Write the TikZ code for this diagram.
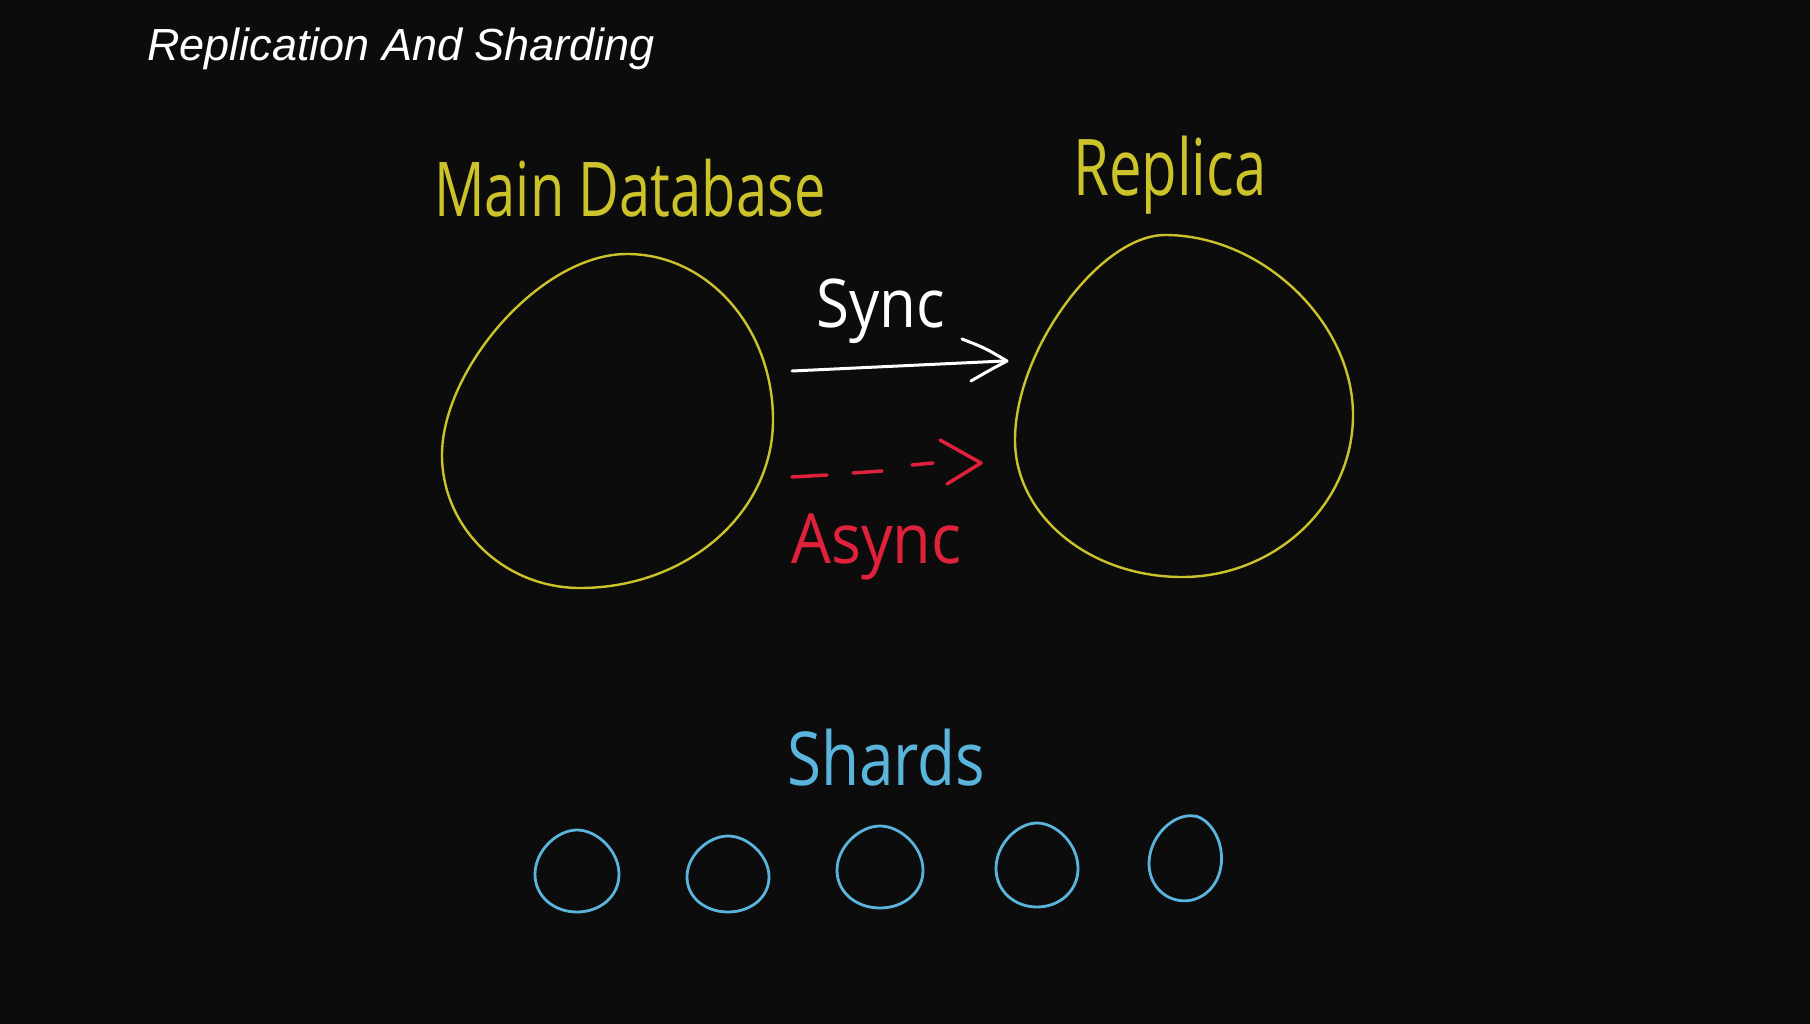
\documentclass[tikz,border=0pt]{standalone}
\usepackage{fontspec}
\setmainfont{Liberation Sans}
\newfontfamily\handfont{Open Sans}
\usetikzlibrary{calc}
\definecolor{bgc}{HTML}{0C0C0C}
\definecolor{ylw}{HTML}{CCC32B}
\definecolor{sky}{HTML}{5AB4DC}
\definecolor{rd}{HTML}{E0213C}
\tikzset{
  hand/.style={font=\handfont\fontsize{#1}{#1}\selectfont, inner sep=0pt, anchor=base west},
  dbline/.style={draw=ylw, line width=2.4pt, line cap=round, line join=round},
  shardline/.style={draw=sky, line width=2.8pt, line join=round},
  syncline/.style={draw=white, line width=3pt, line cap=round, line join=round},
  asyncline/.style={draw=rd, line width=3.5pt, line cap=round, line join=round},
}
\newcommand{\eggshape}[5]{% name, cx, cy, rx, ry
  \begin{scope}[shift={(#2,#3)}, xscale=#4, yscale=#5]
    \draw[shardline] (0,-1) .. controls (0.47,-1) and (1,-0.5) .. (1,0.08)
      .. controls (1,0.62) and (0.55,1) .. (0,1)
      .. controls (-0.55,1) and (-1,0.62) .. (-1,0.08)
      .. controls (-1,-0.5) and (-0.47,-1) .. cycle;
    \coordinate (#1) at (0,0);
  \end{scope}}
\begin{document}
\begin{tikzpicture}[x=1pt,y=-1pt]
\fill[bgc] (0,0) rectangle (1810,1024);
\useasboundingbox (0,0) rectangle (1810,1024);

% title
\node[anchor=base west, inner sep=0pt, text=white, font=\itshape\fontsize{45}{45}\selectfont] (title) at (147,61) {Replication And Sharding};

% labels
\node[hand=56, text=ylw, yscale=1.35] (mainlbl) at (434,217) {Main Database};
\node[hand=58, text=ylw, yscale=1.35] (replbl) at (1073,196) {Replica};
\node[hand=60, text=white, yscale=1.12] (synclbl) at (816,327) {Sync};
\node[hand=63, text=rd, yscale=1.1] (asynclbl) at (791,563) {Async};
\node[hand=62, text=sky, yscale=1.2] (shardlbl) at (787,785) {Shards};

% main database
\coordinate (mT) at (627,254);
\coordinate (mE) at (773,420);
\coordinate (mB) at (580,588);
\coordinate (mW) at (442,455);
\draw[dbline] (mT) .. controls (708,254) and (773,328) .. (mE)
  .. controls (773,513) and (687,588) .. (mB)
  .. controls (504,588) and (442,528) .. (mW)
  .. controls (442,370) and (540,254) .. (mT) -- cycle;

% replica
\coordinate (rT) at (1165,235);
\coordinate (rE) at (1353,415);
\coordinate (rB) at (1182,577);
\coordinate (rW) at (1015,440);
\draw[dbline] (rT) .. controls (1262,235) and (1353,322) .. (rE)
  .. controls (1353,504) and (1276,577) .. (rB)
  .. controls (1090,577) and (1015,516) .. (rW)
  .. controls (1015,350) and (1100,235) .. (rT) -- cycle;

% sync arrow
\coordinate (s0) at (792,371);
\coordinate (s1) at (1004,361);
\coordinate (sh1) at (962,339);
\coordinate (sh2) at (1007,361);
\coordinate (sh3) at (971,381);
\draw[syncline] (s0) -- (s1);
\draw[syncline] (sh1) .. controls (985,348) .. (sh2) .. controls (990,370) .. (sh3);

% async dashed arrow
\coordinate (a1) at (792,477); \coordinate (a2) at (827,475);
\coordinate (a3) at (853,473); \coordinate (a4) at (882,471);
\coordinate (a5) at (912,465); \coordinate (a6) at (933,463);
\coordinate (ah1) at (940,440); \coordinate (ah2) at (981,463); \coordinate (ah3) at (947,484);
\draw[asyncline] (a1) -- (a2);
\draw[asyncline] (a3) -- (a4);
\draw[asyncline] (a5) -- (a6);
\draw[asyncline] (ah1) -- (ah2) -- (ah3);

% shards
\eggshape{sh1c}{577}{871}{42}{41}
\eggshape{sh2c}{728}{874}{41}{38}
\eggshape{sh3c}{880}{867}{43}{41}
\eggshape{sh4c}{1037}{865}{41}{42}
\begin{scope}[rotate around={-12:(1186,858)}]
\eggshape{sh5c}{1186}{858}{36}{43}
\end{scope}
\end{tikzpicture}
\end{document}
